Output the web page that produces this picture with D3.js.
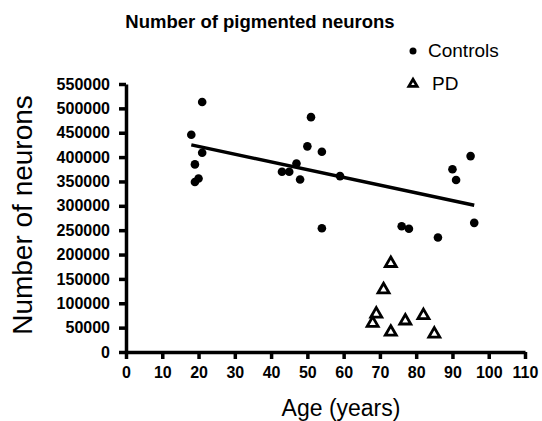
<!DOCTYPE html>
<html>
<head>
<meta charset="utf-8">
<script src="https://cdn.jsdelivr.net/npm/d3@7"></script>
<style>
  body { margin: 0; background: #fff; }
  svg { display: block; font-family: "Liberation Sans", Arial, sans-serif; }
  .axis path, .axis line { stroke: #000; stroke-width: 3.5; }
  .axis text { font-weight: bold; font-size: 16px; fill: #000; }
</style>
</head>
<body>
<figure id="scatter" style="margin:0"></figure>
<script>
// data
var controlAges = [21, 18, 21, 19, 20, 19, 43, 45, 47, 48, 50, 51, 54, 54, 59, 76, 78, 86, 90, 91, 95, 96];
var controlNeurons = [513000, 446000, 409000, 385000, 356000, 349000, 370000, 370000, 387000, 354000, 422000, 482000,
	411000, 254000, 361000, 258000, 253000, 235000, 375000, 353000, 402000, 265000];
var pdAges = [73, 71, 69, 68, 73, 77, 82, 85];
var pdNeurons = [182000, 128000, 78000, 59000, 41000, 64000, 75000, 37000];
var fitAges = [18, 96];
var fitNeurons = [425000, 301000];
var xTicks = [0, 10, 20, 30, 40, 50, 60, 70, 80, 90, 100, 110];
var yTicks = [0, 50000, 100000, 150000, 200000, 250000, 300000, 350000, 400000, 450000, 500000, 550000];

let dimensions = {
	width: 542,
	height: 421,
	margin: {
		top: 84,
		right: 17,
		bottom: 69,
		left: 126,
	},
};
dimensions.boundedWidth = dimensions.width - dimensions.margin.left - dimensions.margin.right;
dimensions.boundedHeight = dimensions.height - dimensions.margin.top - dimensions.margin.bottom;

var root = d3.select("figure#scatter")
	.append("svg")
	.attr("width", dimensions.width)
	.attr("height", dimensions.height);

var svg = root.append("g")
	.attr("transform", `translate(${dimensions.margin.left},${dimensions.margin.top})`);

var xScale = d3.scaleLinear().domain([0, 110]).range([0, dimensions.boundedWidth]);
var yScale = d3.scaleLinear().domain([0, 550000]).range([dimensions.boundedHeight, 0]);

var xAxis = svg.append("g")
	.attr("class", "x axis")
	.attr("transform", `translate(0,${dimensions.boundedHeight})`)
	.call(d3.axisBottom(xScale).tickValues(xTicks).tickSize(7).tickSizeOuter(0).tickPadding(8).tickFormat(d3.format("d")));

var yAxis = svg.append("g")
	.attr("class", "y axis")
	.call(d3.axisLeft(yScale).tickValues(yTicks).tickSize(7).tickSizeOuter(0).tickPadding(9).tickFormat(d3.format("d")));

// regression line for controls
svg.append("line")
	.attr("x1", xScale(fitAges[0]))
	.attr("y1", yScale(fitNeurons[0]))
	.attr("x2", xScale(fitAges[1]))
	.attr("y2", yScale(fitNeurons[1]))
	.attr("stroke", "#000")
	.attr("stroke-width", 3.5);

var controls = controlAges.map((a, i) => ({ age: a, n: controlNeurons[i] }));
var pd = pdAges.map((a, i) => ({ age: a, n: pdNeurons[i] }));

svg.selectAll("circle.ctrl")
	.data(controls)
	.enter()
	.append("circle")
	.attr("class", "ctrl")
	.attr("cx", d => xScale(d.age))
	.attr("cy", d => yScale(d.n))
	.attr("r", 4.3)
	.attr("fill", "#000");

var tri = d3.symbol().type(d3.symbolTriangle).size(52);
svg.selectAll("path.pd")
	.data(pd)
	.enter()
	.append("path")
	.attr("class", "pd")
	.attr("d", tri)
	.attr("transform", d => `translate(${xScale(d.age)},${yScale(d.n)})`)
	.attr("fill", "#fff")
	.attr("stroke", "#000")
	.attr("stroke-width", 2.8);

// titles
root.append("text")
	.attr("x", 260)
	.attr("y", 28)
	.attr("text-anchor", "middle")
	.attr("font-weight", "bold")
	.attr("font-size", 18.5)
	.text("Number of pigmented neurons");

root.append("text")
	.attr("x", 341)
	.attr("y", 416)
	.attr("text-anchor", "middle")
	.attr("font-size", 23)
	.text("Age (years)");

root.append("text")
	.attr("transform", "translate(32,215) rotate(-90)")
	.attr("text-anchor", "middle")
	.attr("font-size", 28)
	.text("Number of neurons");

// legend
var legend = root.append("g");
legend.append("circle").attr("cx", 413).attr("cy", 51).attr("r", 3.5).attr("fill", "#000");
legend.append("text").attr("x", 428).attr("y", 57).attr("font-size", 19).text("Controls");
legend.append("path")
	.attr("d", d3.symbol().type(d3.symbolTriangle).size(30))
	.attr("transform", "translate(413,84)")
	.attr("fill", "#fff")
	.attr("stroke", "#000")
	.attr("stroke-width", 2.8);
legend.append("text").attr("x", 432).attr("y", 90).attr("font-size", 19).text("PD");
</script>
</body>
</html>
